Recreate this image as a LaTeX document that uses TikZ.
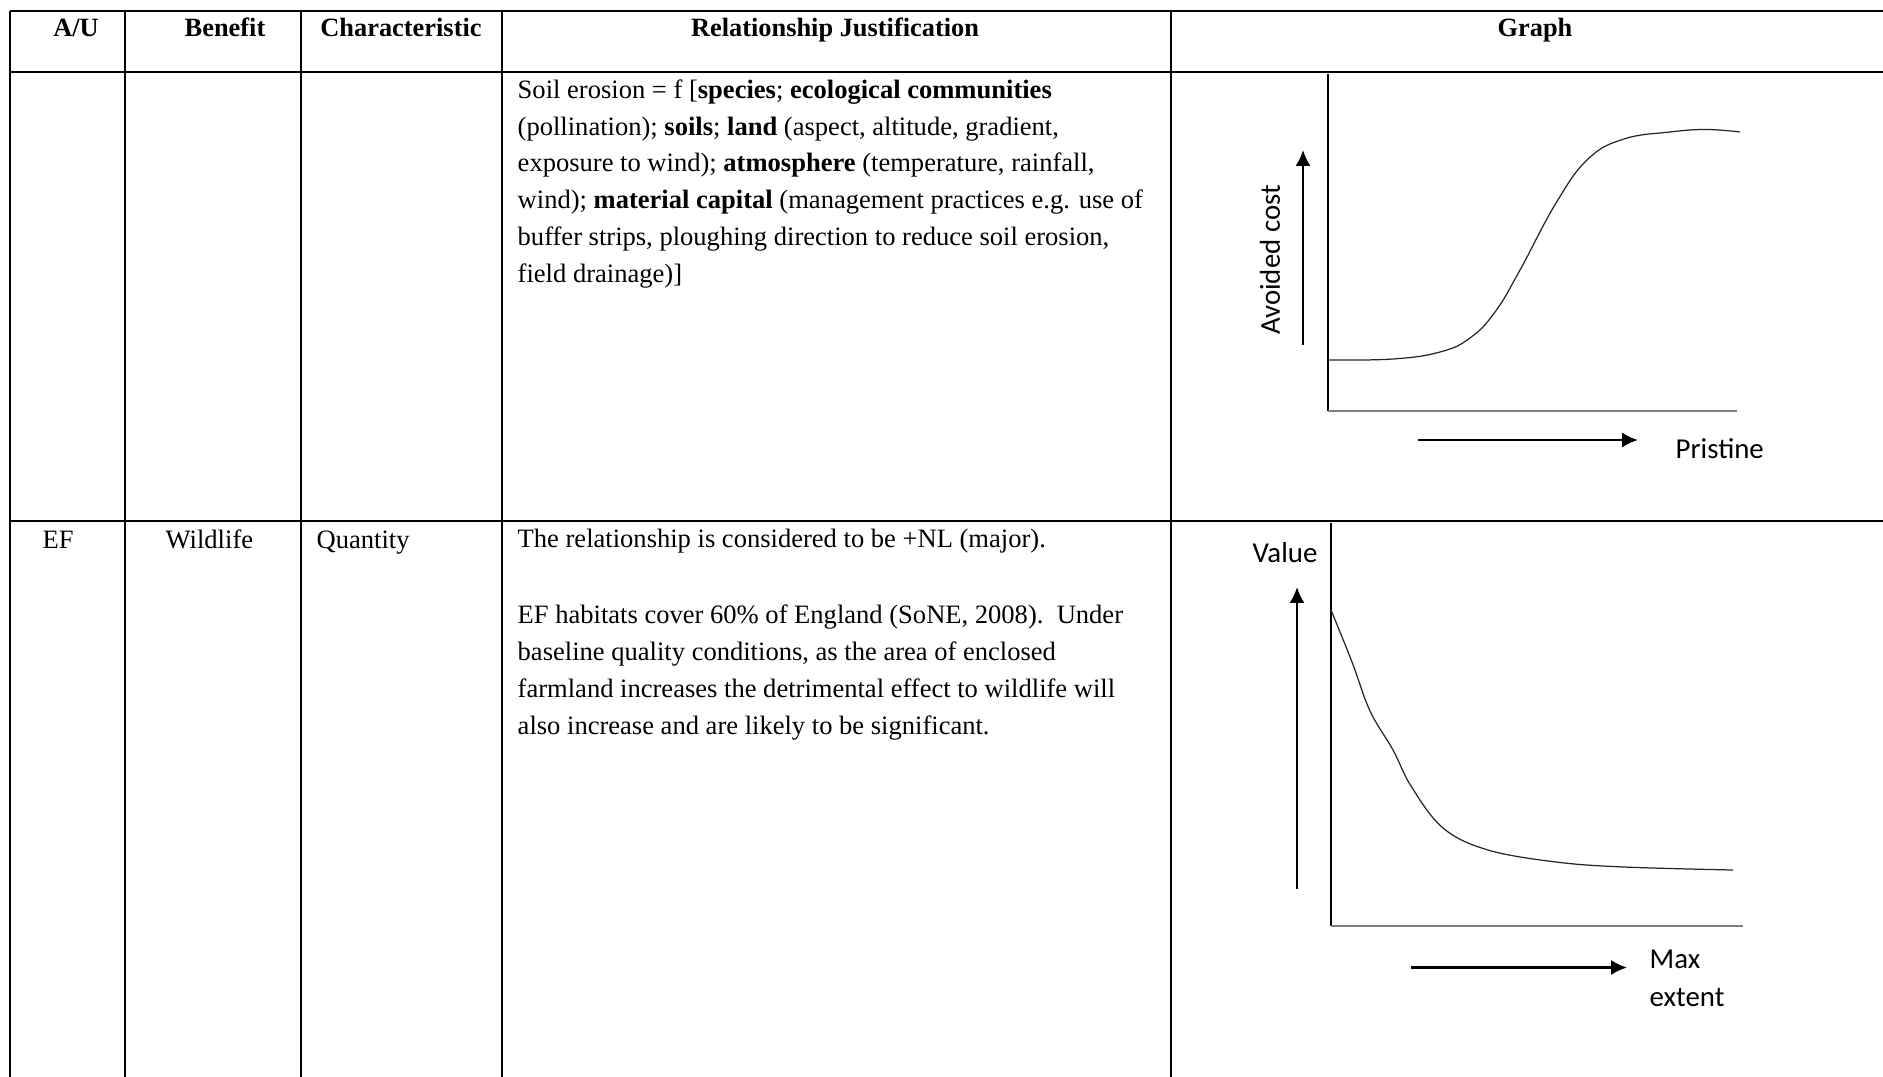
\documentclass[tikz,border=0pt]{standalone}
\usepackage{fontspec}
\setmainfont{Liberation Serif}
\newfontfamily\graphfont{Carlito}
\usetikzlibrary{arrows.meta}

\begin{document}
\begin{tikzpicture}[x=0.01cm,y=-0.01cm,
  hrule/.style={line width=0.57pt},
  vrule/.style={line width=0.45pt},
  head/.style={font=\fontsize{7.5pt}{10.5pt}\selectfont\bfseries,anchor=base,inner sep=0pt},
  cell/.style={font=\fontsize{7.55pt}{10.45pt}\selectfont,anchor=base west,align=left,inner sep=0pt},
  xaxis/.style={line width=0.8pt,draw=black!50},
  yaxis/.style={line width=0.45pt},
  curve/.style={line width=0.35pt,draw=black!85},
  pointer/.style={line width=0.75pt,-{Latex[length=4.5pt,width=4.3pt]}},
  lab/.style={font=\graphfont\fontsize{8.2pt}{10.8pt}\selectfont,inner sep=0pt,align=left}]
\useasboundingbox (0,0) rectangle (1883,1076);
\draw[hrule] (10,11) -- (1900,11) (10,72) -- (1900,72) (10,521) -- (1900,521);
\draw[vrule] (10,11) -- (10,1090) (125,11) -- (125,1090) (301,11) -- (301,1090)
  (502,11) -- (502,1090) (1171,11) -- (1171,1090);

\node[head] (au) at (76,37) {A/U};
\node[head] (benefit) at (225,37) {Benefit};
\node[head] (charact) at (401,37) {Characteristic};
\node[head] (justif) at (835,37) {Relationship Justification};
\node[head] (graph) at (1535,37) {Graph};

\node[cell] (soil) at (517,282) {Soil erosion = f [\textbf{species}; \textbf{ecological communities}\\
(pollination); \textbf{soils}; \textbf{land} (aspect, altitude, gradient,\\
exposure to wind); \textbf{atmosphere} (temperature, rainfall,\\
wind); \textbf{material capital} (management practices e.g. use of\\
buffer strips, ploughing direction to reduce soil erosion,\\
field drainage)]};

\node[cell] (ef) at (42,548) {EF};
\node[cell] (wildlife) at (165,548) {Wildlife};
\node[cell] (quantity) at (316,548) {Quantity};
\node[cell] (nl) at (517,734) {The relationship is considered to be +NL (major).\\[11.2pt]
EF habitats cover 60\% of England (SoNE, 2008).\ \ Under\\
baseline quality conditions, as the area of enclosed\\
farmland increases the detrimental effect to wildlife will\\
also increase and are likely to be significant.};

\draw[yaxis] (1328,74) -- (1328,411);
\draw[xaxis] (1328,411) -- (1737,411);
\draw[curve] plot[smooth,tension=0.7] coordinates {(1328,360) (1393,359) (1440,352)
  (1470,338) (1495,312) (1520,270) (1556,203) (1588,159) (1624,139) (1670,132) (1706,129.5) (1740,132)};
\draw[pointer] (1303,345) -- (1303,150);
\draw[pointer] (1418,440) -- (1638,440);
\node[lab,rotate=90] (cost) at (1270,260) {Avoided cost};
\node[lab,anchor=base west] (pristine) at (1675,458) {Pristine};

\draw[yaxis] (1331,523) -- (1331,926);
\draw[xaxis] (1331,926) -- (1743,926);
\draw[curve] plot[smooth,tension=0.6] coordinates {(1331,610) (1352,662) (1370,711)
  (1393,750) (1411,786) (1443,828) (1488,850) (1556,862) (1624,867) (1733,870)};
\draw[pointer] (1297,889) -- (1297,587);
\draw[pointer] (1411,967.5) -- (1627,967.5);
\node[lab,anchor=base west] (value) at (1252,562) {Value};
\node[lab,anchor=base west] (extent) at (1649,1006.5) {Max\\extent};
\end{tikzpicture}
\end{document}
